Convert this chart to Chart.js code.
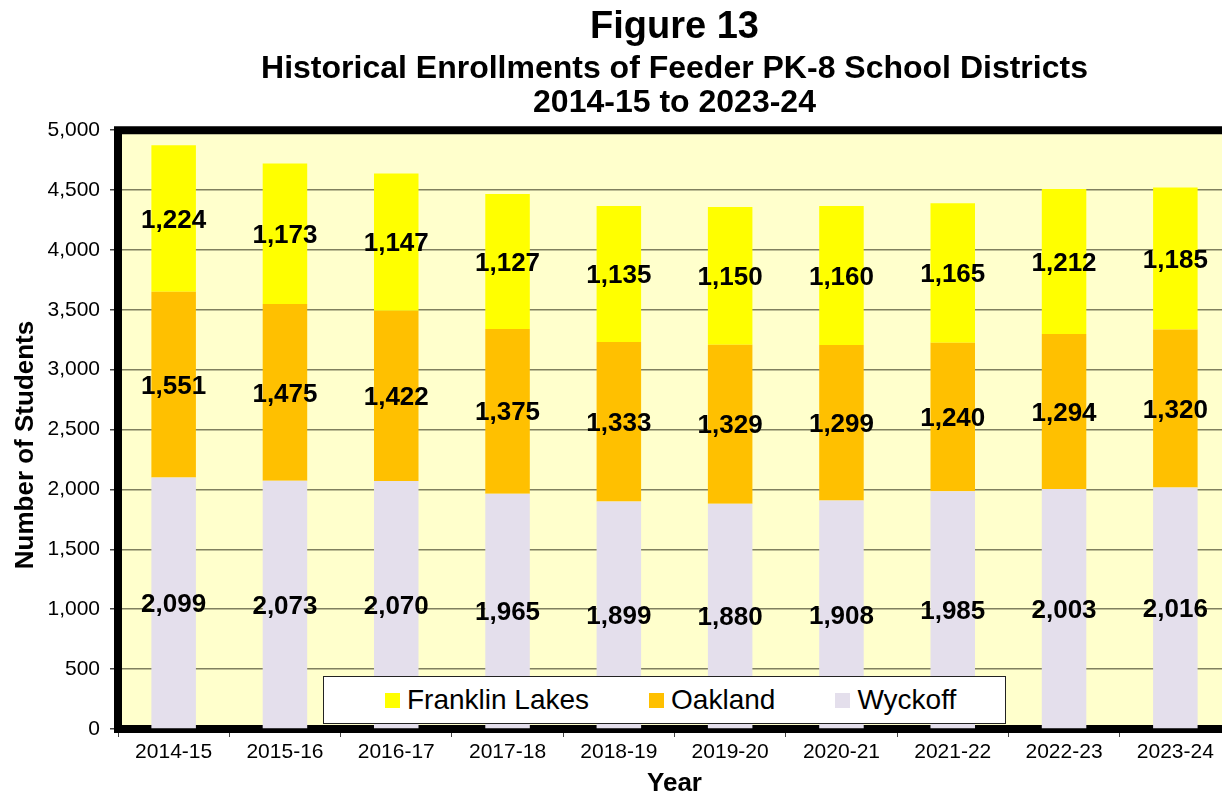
<!DOCTYPE html>
<html lang="en">
<head>
  <meta charset="UTF-8">
  <title>Figure 13 - Feeder District Enrollments</title>
  <script src="https://cdn.jsdelivr.net/npm/chart.js"></script>
  <style>
    body {
      margin: 0;
      background: #fff;
      overflow: hidden;
      font-family: "Liberation Sans", Arial, sans-serif;
    }

    .wrap {
      position: relative;
      width: 1240px;
      height: 797px;
    }

    .legend-box {
      position: absolute;
      left: 323px;
      top: 676px;
      width: 683px;
      height: 48px;
      background: #fff;
      border: 1px solid #222;
      display: flex;
      align-items: center;
      padding-left: 61px;
      gap: 60px;
      box-sizing: border-box;
    }

    .legend-item {
      display: flex;
      align-items: center;
      font-size: 28px;
      color: #000;
    }

    .legend-item span.swatch {
      width: 15px;
      height: 15px;
      margin-right: 7px;
    }
  </style>
</head>
<body>

<div class="wrap">
  <canvas id="enrollChart" width="1240" height="797"></canvas>
  <div class="legend-box" id="legend"></div>
</div>

<script>
  const years = ['2014-15', '2015-16', '2016-17', '2017-18', '2018-19',
                 '2019-20', '2020-21', '2021-22', '2022-23', '2023-24'];
  const franklinLakes = [1224, 1173, 1147, 1127, 1135, 1150, 1160, 1165, 1212, 1185];
  const oakland       = [1551, 1475, 1422, 1375, 1333, 1329, 1299, 1240, 1294, 1320];
  const wyckoff       = [2099, 2073, 2070, 1965, 1899, 1880, 1908, 1985, 2003, 2016];
  const yTicks = [0, 500, 1000, 1500, 2000, 2500, 3000, 3500, 4000, 4500, 5000];

  const FONT = '"Liberation Sans", Arial, sans-serif';

  // stacked bottom-up: Wyckoff, Oakland, Franklin Lakes
  const series = [
    { label: 'Wyckoff', data: wyckoff, color: '#E4DFEC' },
    { label: 'Oakland', data: oakland, color: '#FFC000' },
    { label: 'Franklin Lakes', data: franklinLakes, color: '#FFFF00' }
  ];

  // plot background + heavy frame drawn under the bars
  const plotFrame = {
    id: 'plotFrame',
    beforeDraw(chart) {
      const { ctx, chartArea: a } = chart;
      ctx.save();
      ctx.fillStyle = '#FFFFCC';
      ctx.fillRect(a.left, a.top, a.right - a.left, a.bottom - a.top);
      ctx.restore();
    },
    beforeDatasetsDraw(chart) {
      const { ctx, chartArea: a } = chart;
      ctx.save();
      ctx.strokeStyle = '#000';
      ctx.lineWidth = 8;
      ctx.beginPath();
      ctx.moveTo(a.right + 10, a.top);
      ctx.lineTo(a.left, a.top);
      ctx.lineTo(a.left, a.bottom);
      ctx.lineTo(a.right + 10, a.bottom);
      ctx.stroke();
      ctx.restore();
    }
  };

  // value labels centred inside each segment
  const segmentLabels = {
    id: 'segmentLabels',
    afterDatasetsDraw(chart) {
      const { ctx } = chart;
      ctx.save();
      ctx.font = 'bold 26px ' + FONT;
      ctx.fillStyle = '#000';
      ctx.textAlign = 'center';
      ctx.textBaseline = 'middle';
      chart.data.datasets.forEach((ds, i) => {
        chart.getDatasetMeta(i).data.forEach((bar, j) => {
          const { x, y, base } = bar.getProps(['x', 'y', 'base'], true);
          ctx.fillText(ds.data[j].toLocaleString('en-US'), x, (y + base) / 2 + 2);
        });
      });
      ctx.restore();
    }
  };

  // rotated y axis caption
  const yCaption = {
    id: 'yCaption',
    afterDraw(chart) {
      const { ctx } = chart;
      ctx.save();
      ctx.translate(26, 445);
      ctx.rotate(-Math.PI / 2);
      ctx.font = 'bold 26px ' + FONT;
      ctx.fillStyle = '#000';
      ctx.textAlign = 'center';
      ctx.textBaseline = 'middle';
      ctx.fillText('Number of Students', 0, 0);
      ctx.restore();
    }
  };

  new Chart(document.getElementById('enrollChart'), {
    type: 'bar',
    data: {
      labels: years,
      datasets: series.map(s => ({
        label: s.label,
        data: s.data,
        backgroundColor: s.color,
        borderWidth: 0,
        barPercentage: 0.4,
        categoryPercentage: 1.0
      }))
    },
    options: {
      responsive: false,
      animation: false,
      layout: { padding: { left: 0, right: 9, top: 0, bottom: 0 } },
      plugins: {
        legend: { display: false },
        tooltip: { enabled: false },
        title: {
          display: true,
          text: 'Figure 13',
          fullSize: false,
          color: '#000',
          font: { family: FONT, size: 38, weight: 'bold', lineHeight: 1.14 },
          padding: { top: 6, bottom: 0 }
        },
        subtitle: {
          display: true,
          text: ['Historical Enrollments of Feeder PK-8 School Districts', '2014-15 to 2023-24'],
          fullSize: false,
          color: '#000',
          font: { family: FONT, size: 32, weight: 'bold', lineHeight: 1.06 },
          padding: { top: 3, bottom: 10 }
        }
      },
      scales: {
        x: {
          stacked: true,
          offset: true,
          border: { display: false },
          grid: {
            display: true,
            drawOnChartArea: false,
            offset: true,
            tickLength: 8,
            tickColor: '#444'
          },
          ticks: {
            color: '#000',
            padding: 3,
            font: { family: FONT, size: 21 }
          },
          title: {
            display: true,
            text: 'Year',
            color: '#000',
            font: { family: FONT, size: 26, weight: 'bold', lineHeight: 1.0 },
            padding: { top: 0, bottom: 0 }
          },
          afterFit(scale) { scale.height = 68; }
        },
        y: {
          stacked: true,
          min: 0,
          max: 5000,
          border: { display: false },
          afterBuildTicks(scale) {
            scale.ticks = yTicks.map(v => ({ value: v }));
          },
          grid: {
            color: '#80805F',
            lineWidth: 1.5,
            tickLength: 8,
            tickColor: '#444'
          },
          ticks: {
            color: '#000',
            padding: 10,
            font: { family: FONT, size: 21 },
            callback: v => Number(v).toLocaleString('en-US')
          },
          afterFit(scale) { scale.width = 118; }
        }
      }
    },
    plugins: [plotFrame, segmentLabels, yCaption]
  });

  // legend listed top series first
  const legendEl = document.getElementById('legend');
  series.slice().reverse().forEach(s => {
    const item = document.createElement('div');
    item.className = 'legend-item';
    item.innerHTML = '<span class="swatch" style="background:' + s.color + '"></span>' + s.label;
    legendEl.appendChild(item);
  });
</script>

</body>
</html>
